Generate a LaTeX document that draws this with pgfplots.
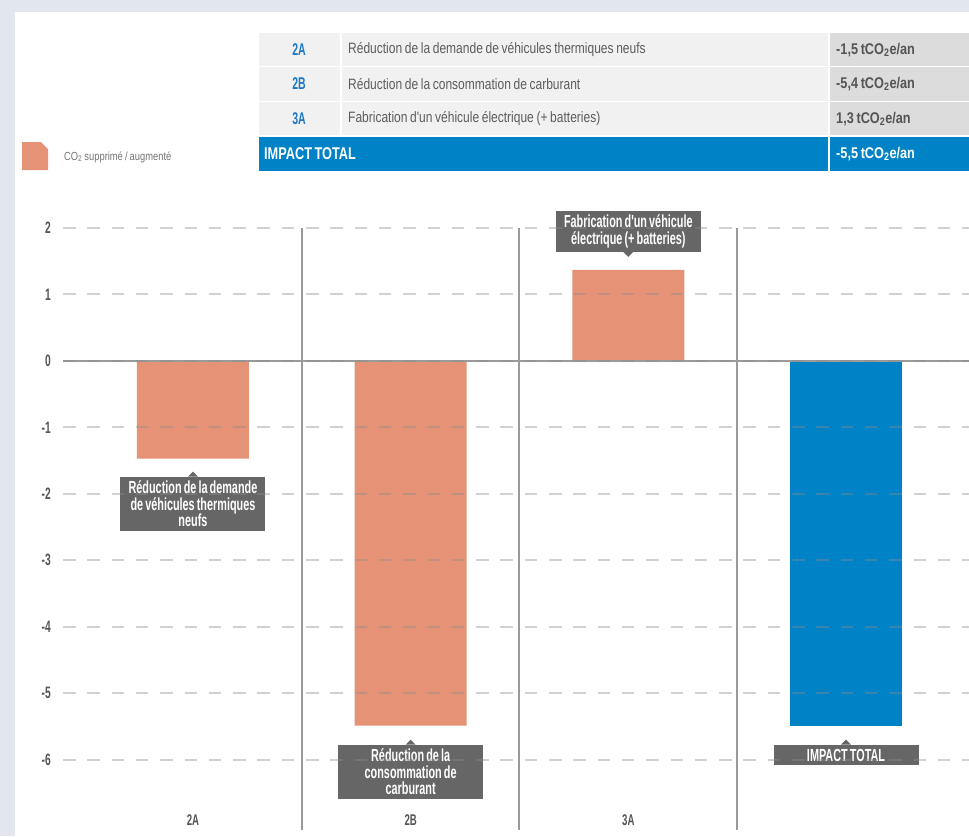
\documentclass[border=0pt]{standalone}
\usepackage{pgfplots}
\pgfplotsset{compat=1.18}
\usepackage{fontspec}
\setmainfont{Liberation Sans}
\newfontfamily\cnd{Liberation Sans}[FakeStretch=0.62, WordSpace=0.7]
\newfontfamily\cnt{Liberation Sans}[FakeStretch=0.8, WordSpace=0.8]
\newfontfamily\cnv{Liberation Sans}[FakeStretch=0.82, WordSpace=0.75]
\newfontfamily\cnw{Liberation Sans}[FakeStretch=0.75, WordSpace=0.7]
\definecolor{outerband}{HTML}{E1E7EC}
\definecolor{salmon}{HTML}{E59277}
\definecolor{cblue}{HTML}{0082C6}
\definecolor{codeblue}{HTML}{1E78C2}
\definecolor{tlight}{HTML}{F1F1F1}
\definecolor{tdark}{HTML}{DCDCDC}
\definecolor{desc}{HTML}{5C5C5C}
\definecolor{valtxt}{HTML}{555555}
\definecolor{boxgray}{HTML}{666666}
\definecolor{sepgray}{HTML}{9A9A9A}
\definecolor{ticktxt}{HTML}{555555}
\tikzset{code/.style={font=\cnd\bfseries\fontsize{17}{19}\selectfont, text=codeblue, inner sep=0pt},
  dsc/.style={anchor=west, font=\cnt\fontsize{15}{17}\selectfont, text=desc, inner sep=0pt},
  val/.style={anchor=west, font=\cnv\bfseries\fontsize{15.5}{17}\selectfont, text=valtxt, inner sep=0pt},
  callout/.style={fill=boxgray, text=white, font=\cnd\bfseries\fontsize{17.5}{16.5}\selectfont, align=flush center, text width=137pt, inner xsep=4pt, inner ysep=4pt},
  cat/.style={font=\cnd\bfseries\fontsize{15.5}{17}\selectfont, text=ticktxt, inner sep=0pt}}
\begin{document}
\begin{tikzpicture}[x=1pt,y=1pt]
\path[use as bounding box] (0,0) rectangle (969,-836);
\fill[outerband] (0,0) rectangle (969,-836);
\fill[white] (15,-12) rectangle (969,-836);
% ---- table ----
\foreach \ya/\yb in {33/66,67/101,102/135}{
  \fill[tlight] (259,-\ya) rectangle (340,-\yb);
  \fill[tlight] (342,-\ya) rectangle (828,-\yb);
  \fill[tdark] (830,-\ya) rectangle (969,-\yb);
}
\fill[cblue] (259,-137) rectangle (828,-171);
\fill[cblue] (830,-137) rectangle (969,-171);
\node[code] at (299,-50) {2A};
\node[code] at (299,-84) {2B};
\node[code] at (299,-119) {3A};
\node[dsc] at (348,-50) {Réduction de la demande de véhicules thermiques neufs};
\node[dsc] at (348,-84) {Réduction de la consommation de carburant};
\node[dsc] at (348,-119) {Fabrication d'un véhicule électrique (+ batteries)};
\node[val] at (836,-50) {-1,5 tCO\textsubscript{2}e/an};
\node[val] at (836,-84) {-5,4 tCO\textsubscript{2}e/an};
\node[val] at (836,-119) {1,3 tCO\textsubscript{2}e/an};
\node[anchor=west, inner sep=0pt, text=white, font=\cnw\bfseries\fontsize{17}{19}\selectfont] at (264,-154) {IMPACT TOTAL};
\node[anchor=west, inner sep=0pt, text=white, font=\cnv\bfseries\fontsize{15.5}{17}\selectfont] at (836,-154) {-5,5 tCO\textsubscript{2}e/an};
% ---- legend ----
\fill[salmon] (22,-142) -- (41,-142) -- (48,-149) -- (48,-170) -- (22,-170) -- cycle;
\node[anchor=west, inner sep=0pt, text=desc!85, font=\cnt\fontsize{11.7}{14}\selectfont] at (64,-157) {CO\textsubscript{2} supprimé / augmenté};
% ---- chart ----
\begin{axis}[
  at={(63pt,-830pt)}, anchor=south west, scale only axis,
  width=906pt, height=602pt,
  xmin=-0.597, xmax=3.565, ymin=-7.06, ymax=2,
  axis line style={draw=none}, xtick=\empty,
  ytick={-6,-5,-4,-3,-2,-1,0,1,2},
  yticklabels={-6,-5,-4,-3,-2,-1,0,1,2},
  major tick length=0pt,
  ymajorgrids, axis on top,
  grid style={draw=black!45, draw opacity=0.4, line width=2pt, dash pattern=on 12.5pt off 11.8pt},
  yticklabel style={anchor=east, inner sep=0pt, xshift=-12pt, text=ticktxt, font=\cnd\bfseries\fontsize{16.5}{18}\selectfont},
  clip=false,
]
\addplot[ybar, bar width=112pt, bar shift=0pt, fill=salmon, draw=none] coordinates {(0,-1.47) (1,-5.49) (2,1.37)};
\addplot[ybar, bar width=112pt, bar shift=0pt, fill=cblue, draw=none] coordinates {(3,-5.49)};
\draw[sepgray, line width=2pt] (axis cs:-0.597,0) -- (axis cs:3.565,0);
\draw[sepgray, line width=2pt] (axis cs:0.5,2) -- (axis cs:0.5,-7.06);
\draw[sepgray, line width=2pt] (axis cs:1.5,2) -- (axis cs:1.5,-7.06);
\draw[sepgray, line width=2pt] (axis cs:2.5,2) -- (axis cs:2.5,-7.06);
\node[cat] at (axis cs:0,-6.907) {2A};
\node[cat] at (axis cs:1,-6.907) {2B};
\node[cat] at (axis cs:2,-6.907) {3A};
% callouts
\node[callout, anchor=north] (c1) at ([yshift=-18pt]axis cs:0,-1.47) {Réduction de la demande\\de véhicules thermiques\\neufs};
\fill[boxgray] ([xshift=-5pt]c1.north) -- ++(5pt,5pt) -- ++(5pt,-5pt) -- cycle;
\node[callout, anchor=north] (c2) at ([yshift=-19pt]axis cs:1,-5.49) {Réduction de la\\consommation de\\carburant};
\fill[boxgray] ([xshift=-5pt]c2.north) -- ++(5pt,5pt) -- ++(5pt,-5pt) -- cycle;
\node[callout, anchor=south] (c3) at ([yshift=18pt]axis cs:2,1.37) {Fabrication d'un véhicule\\électrique (+ batteries)};
\fill[boxgray] ([xshift=-5pt]c3.south) -- ++(5pt,-5pt) -- ++(5pt,5pt) -- cycle;
\node[callout, anchor=north] (c4) at ([yshift=-19pt]axis cs:3,-5.49) {IMPACT TOTAL};
\fill[boxgray] ([xshift=-5pt]c4.north) -- ++(5pt,5pt) -- ++(5pt,-5pt) -- cycle;
\end{axis}
\end{tikzpicture}
\end{document}
